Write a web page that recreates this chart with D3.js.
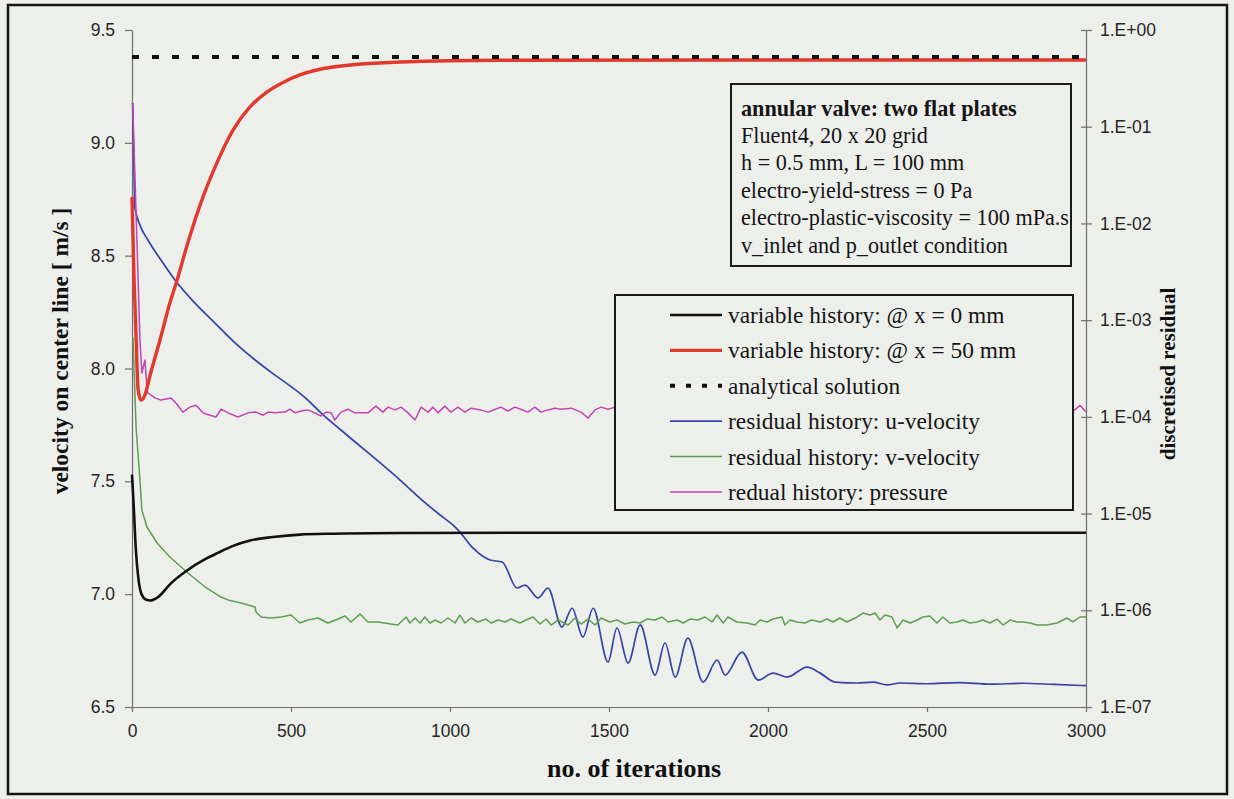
<!DOCTYPE html>
<html><head><meta charset="utf-8">
<script src="https://cdn.jsdelivr.net/npm/d3@7"></script>
<style>
html,body{margin:0;padding:0;background:#edefeb;}
svg{display:block;}
</style>
</head><body>
<svg id="chart" width="1234" height="799"></svg>
<script>
// ---- data -------------------------------------------------------------
const iterTicks = [0, 500, 1000, 1500, 2000, 2500, 3000];
const velocityTicks = [6.5, 7.0, 7.5, 8.0, 8.5, 9.0, 9.5];
const residualTicks = [1e0, 1e-1, 1e-2, 1e-3, 1e-4, 1e-5, 1e-6, 1e-7];

const legendLabels = [
  "variable history: @ x = 0 mm",
  "variable history: @ x = 50 mm",
  "analytical solution",
  "residual history: u-velocity",
  "residual history: v-velocity",
  "redual history: pressure"
];

const infoLines = [
  "annular valve: two flat plates",
  "Fluent4, 20 x 20 grid",
  "h = 0.5 mm, L = 100 mm",
  "electro-yield-stress = 0 Pa",
  "electro-plastic-viscosity = 100 mPa.s",
  "v_inlet and p_outlet condition"
];

// velocity [m/s] vs iteration, centre line at x = 0 mm
const velocityX0 = [[0,7.53],[5,7.40],[12,7.20],[20,7.07],[30,7.00],[45,6.975],[57,6.972],[82,6.987],
  [123,7.049],[173,7.105],[230,7.155],[270,7.183],[320,7.215],[371,7.238],[443,7.253],[528,7.264],
  [632,7.268],[843,7.271],[1200,7.272],[2000,7.272],[3000,7.272]];

// velocity [m/s] vs iteration, centre line at x = 50 mm
const velocityX50 = [[0,8.76],[6,8.42],[13,8.13],[19,7.91],[28,7.86],[40,7.88],[57,7.971],[88,8.126],
  [119,8.290],[142,8.392],[167,8.516],[214,8.724],[267,8.911],[318,9.057],[371,9.159],[424,9.225],
  [478,9.270],[528,9.301],[632,9.336],[843,9.358],[1157,9.366],[2000,9.367],[3000,9.367]];

// analytical solution [m/s]
const velocityAnalytical = [[0,9.38],[3000,9.38]];

// residual history, u-velocity
const residualU = [[2,0.176],[5,0.06],[9,0.0148],[25,9.6e-3],[50,6.74e-3],[91,4.19e-3],[135,2.60e-3],
  [198,1.50e-3],[261,9.33e-4],[324,5.81e-4],[387,3.87e-4],[437,2.9e-4],[553,1.49e-4],[594,1.10e-4],
  [657,7.31e-5],[843,2.22e-5],[912,1.38e-5],[969,9.66e-6],[1009,7.62e-6],[1031,6.44e-6],[1072,4.41e-6],
  [1126,3.31e-6],[1164,3.16e-6],[1211,1.70e-6],[1236,1.82e-6],[1277,1.34e-6],[1308,1.70e-6],
  [1352,6.71e-7],[1384,1.05e-6],[1418,5.28e-7],[1450,1.05e-6],[1497,2.92e-7],[1525,6.56e-7],
  [1560,2.85e-7],[1598,7.05e-7],[1645,2.14e-7],[1676,4.59e-7],[1708,2.04e-7],[1748,5.16e-7],
  [1796,1.81e-7],[1840,3.06e-7],[1865,2.14e-7],[1918,3.70e-7],[1969,1.90e-7],[2016,2.24e-7],
  [2060,2.04e-7],[2123,2.59e-7],[2164,2.24e-7],[2211,1.81e-7],[2280,1.77e-7],[2330,1.81e-7],
  [2374,1.69e-7],[2415,1.77e-7],[2500,1.74e-7],[2600,1.79e-7],[2700,1.72e-7],[2800,1.76e-7],
  [2900,1.71e-7],[3000,1.66e-7]];

// residual history, v-velocity
const residualV = [[3,6.69e-4],[13,7.6e-5],[25,2.22e-5],[31,1.09e-5],[47,7.26e-6],[79,4.96e-6],
  [119,3.56e-6],[176,2.43e-6],[230,1.74e-6],[280,1.37e-6],[302,1.28e-6],[343,1.19e-6],[387,1.08e-6],
  [390,9.60e-7],[406,8.52e-7],[437,8.32e-7],[469,8.52e-7],[500,8.93e-7],[528,7.39e-7],[553,7.93e-7],
  [585,8.32e-7],[616,7.39e-7],[648,8.12e-7],[670,8.73e-7],[689,7.57e-7],[717,9.15e-7],[742,7.57e-7],
  [774,7.57e-7],[814,7.21e-7],[836,7.04e-7],[862,8.52e-7],[874,7.39e-7],[890,8.32e-7],[906,7.39e-7],
  [921,8.52e-7],[937,7.39e-7],[953,7.93e-7],[972,7.39e-7],[994,8.32e-7],[1016,7.39e-7],[1031,8.93e-7],
  [1047,7.39e-7],[1066,8.32e-7],[1088,7.57e-7],[1113,8.12e-7],[1129,7.39e-7],[1151,7.93e-7],
  [1173,7.57e-7],[1192,8.12e-7],[1220,7.39e-7],[1239,7.93e-7],[1261,8.52e-7],[1283,7.21e-7],
  [1302,8.12e-7],[1318,7.04e-7],[1340,7.93e-7],[1371,7.04e-7],[1393,8.32e-7],[1412,7.21e-7],
  [1434,8.12e-7],[1456,7.04e-7],[1475,8.32e-7],[1503,7.57e-7],[1525,7.93e-7],[1550,7.21e-7],
  [1576,7.57e-7],[1598,7.39e-7],[1620,8.12e-7],[1645,7.93e-7],[1667,8.52e-7],[1686,7.57e-7],
  [1714,7.93e-7],[1733,7.39e-7],[1755,8.12e-7],[1780,7.93e-7],[1802,8.52e-7],[1824,7.57e-7],
  [1840,8.93e-7],[1859,7.39e-7],[1874,8.52e-7],[1902,7.57e-7],[1934,7.39e-7],[1959,7.04e-7],
  [1975,7.93e-7],[1997,7.57e-7],[2016,8.12e-7],[2044,8.52e-7],[2053,7.04e-7],[2069,7.93e-7],
  [2091,7.57e-7],[2116,7.39e-7],[2138,7.93e-7],[2164,7.57e-7],[2186,8.12e-7],[2204,7.57e-7],
  [2226,8.32e-7],[2248,7.57e-7],[2274,8.32e-7],[2299,9.37e-7],[2321,8.93e-7],[2337,9.37e-7],
  [2352,7.93e-7],[2368,8.93e-7],[2390,8.52e-7],[2406,6.56e-7],[2425,7.93e-7],[2447,7.39e-7],
  [2469,7.93e-7],[2487,8.52e-7],[2509,8.73e-7],[2531,7.39e-7],[2550,8.52e-7],[2572,7.39e-7],
  [2594,7.57e-7],[2613,7.93e-7],[2635,7.39e-7],[2657,7.57e-7],[2676,7.93e-7],[2698,7.39e-7],
  [2720,8.12e-7],[2739,7.04e-7],[2761,7.93e-7],[2783,7.57e-7],[2802,7.57e-7],[2824,7.39e-7],
  [2846,7.04e-7],[2877,7.04e-7],[2909,7.39e-7],[2940,8.32e-7],[2959,7.57e-7],[2981,8.52e-7],
  [3000,8.52e-7]];

// residual history, pressure
const residualP = [[2,0.176],[9,0.0332],[25,6.23e-4],[31,2.84e-4],[41,3.87e-4],[47,1.90e-4],[50,1.77e-4],
  [72,1.57e-4],[91,1.49e-4],[123,1.57e-4],[138,1.39e-4],[160,1.12e-4],[182,1.26e-4],[201,1.32e-4],
  [223,1.10e-4],[245,1.04e-4],[264,9.96e-5],[280,1.20e-4],[302,1.10e-4],[333,9.96e-5],[365,1.10e-4],
  [390,1.12e-4],[412,1.04e-4],[428,1.12e-4],[450,1.10e-4],[481,1.12e-4],[497,1.20e-4],[513,1.10e-4],
  [531,1.15e-4],[553,1.18e-4],[575,1.10e-4],[594,1.02e-4],[610,1.12e-4],[626,1.10e-4],[638,9.27e-5],
  [657,1.12e-4],[679,1.20e-4],[701,1.10e-4],[720,1.10e-4],[742,1.10e-4],[767,1.29e-4],[789,1.12e-4],
  [805,1.26e-4],[827,1.18e-4],[846,1.26e-4],[868,1.10e-4],[890,9.27e-5],[909,1.26e-4],[931,1.12e-4],
  [947,1.26e-4],[962,1.10e-4],[984,1.29e-4],[1003,1.12e-4],[1025,1.26e-4],[1047,1.12e-4],[1066,1.23e-4],
  [1097,1.18e-4],[1120,1.12e-4],[1142,1.20e-4],[1160,1.26e-4],[1182,1.15e-4],[1204,1.26e-4],
  [1223,1.20e-4],[1245,1.12e-4],[1267,1.26e-4],[1286,1.12e-4],[1308,1.18e-4],[1330,1.23e-4],
  [1349,1.20e-4],[1381,1.23e-4],[1412,1.12e-4],[1434,9.73e-5],[1456,1.18e-4],[1475,1.26e-4],
  [1497,1.20e-4],[1519,1.26e-4],[1700,1.15e-4],[1900,1.18e-4],[2100,1.12e-4],[2300,1.20e-4],
  [2500,1.15e-4],[2700,1.18e-4],[2900,1.15e-4],[2965,1.18e-4],[2981,1.32e-4],[3000,1.12e-4]];

// ---- layout -----------------------------------------------------------
const svg = d3.select("#chart");
const W = 1234, H = 799;
const plot = {left: 132, right: 1086, top: 30, bottom: 707};
const bg = "#edefeb";
const tickFont = "'Liberation Sans', Arial, sans-serif";
const serifFont = "'Liberation Serif', 'Times New Roman', serif";

svg.append("rect").attr("width", W).attr("height", H).attr("fill", bg);
svg.append("rect").attr("x", 8).attr("y", 5).attr("width", 1219).attr("height", 789)
  .attr("fill", "none").attr("stroke", "#151515").attr("stroke-width", 2.5);

const x = d3.scaleLinear().domain([0, 3000]).range([plot.left, plot.right]);
const yV = d3.scaleLinear().domain([6.5, 9.5]).range([plot.bottom, plot.top]);
const yR = d3.scaleLog().domain([1e-7, 1]).range([plot.bottom, plot.top]);

// ---- axes -------------------------------------------------------------
function styleAxis(g) {
  g.select(".domain").attr("stroke", "#6f6f6f").attr("stroke-width", 1.2);
  g.selectAll(".tick line").attr("stroke", "#6f6f6f").attr("stroke-width", 1.2);
  g.selectAll(".tick text").attr("fill", "#262626")
    .style("font-family", tickFont).style("font-size", "17.5px");
}

svg.append("g").attr("transform", `translate(0,${plot.bottom})`)
  .call(d3.axisBottom(x).tickValues(iterTicks).tickSize(5).tickSizeOuter(0).tickPadding(13)
    .tickFormat(d3.format("d")))
  .call(styleAxis);

svg.append("g").attr("transform", `translate(${plot.left},0)`)
  .call(d3.axisLeft(yV).tickValues(velocityTicks).tickSize(7).tickSizeOuter(0).tickPadding(10)
    .tickFormat(d3.format(".1f")))
  .call(styleAxis);

const expFmt = d => {
  const e = Math.round(Math.log10(d));
  return "1.E" + (e >= 0 ? "+" : "-") + String(Math.abs(e)).padStart(2, "0");
};
const rAxis = svg.append("g").attr("transform", `translate(${plot.right},0)`)
  .call(d3.axisRight(yR).tickValues(residualTicks).tickSize(6).tickSizeOuter(0).tickPadding(8)
    .tickFormat(expFmt))
  .call(styleAxis);
rAxis.selectAll(".tick line").attr("x1", -5);

// axis titles
svg.append("text").attr("x", 634).attr("y", 768).attr("text-anchor", "middle")
  .attr("dominant-baseline", "central")
  .style("font-family", serifFont).style("font-weight", "bold").style("font-size", "26px")
  .attr("fill", "#111").text("no. of iterations");

svg.append("text").attr("transform", "translate(60,351) rotate(-90)").attr("text-anchor", "middle")
  .attr("dominant-baseline", "central")
  .style("font-family", serifFont).style("font-weight", "bold").style("font-size", "23.5px")
  .attr("fill", "#111").text("velocity on center line [ m/s ]");

svg.append("text").attr("transform", "translate(1168,374) rotate(-90)").attr("text-anchor", "middle")
  .attr("dominant-baseline", "central")
  .style("font-family", serifFont).style("font-weight", "bold").style("font-size", "21px")
  .attr("fill", "#111").text("discretised residual");

// ---- series -----------------------------------------------------------
const lineV = (curve) => d3.line().x(d => x(d[0])).y(d => yV(d[1])).curve(curve);
const lineR = (curve) => d3.line().x(d => x(d[0])).y(d => yR(d[1])).curve(curve);

const series = [
  {data: residualU, line: lineR(d3.curveMonotoneX), color: "#3444a4", width: 1.7, dash: null},
  {data: residualV, line: lineR(d3.curveLinear), color: "#5d9f4e", width: 1.5, dash: null},
  {data: residualP, line: lineR(d3.curveLinear), color: "#c443b5", width: 1.5, dash: null},
  {data: velocityX0, line: lineV(d3.curveMonotoneX), color: "#111111", width: 2.6, dash: null},
  {data: velocityX50, line: lineV(d3.curveMonotoneX), color: "#e2392d", width: 3.4, dash: null},
  {data: velocityAnalytical, line: lineV(d3.curveLinear), color: "#111111", width: 4, dash: "7,13"}
];

const gLines = svg.append("g");
series.forEach(s => {
  gLines.append("path").datum(s.data).attr("d", s.line)
    .attr("fill", "none").attr("stroke", s.color).attr("stroke-width", s.width)
    .attr("stroke-linejoin", "round")
    .attr("stroke-dasharray", s.dash);
});

// ---- info box ---------------------------------------------------------
const info = svg.append("g");
info.append("rect").attr("x", 731).attr("y", 84).attr("width", 340).attr("height", 182)
  .attr("fill", bg).attr("stroke", "#1a1a1a").attr("stroke-width", 2);
infoLines.forEach((t, i) => {
  info.append("text").attr("x", 741).attr("y", 108 + i * 27.4)
    .attr("dominant-baseline", "central")
    .style("font-family", serifFont).style("font-size", "22.2px")
    .style("font-weight", i === 0 ? "bold" : "normal")
    .attr("fill", "#151515").text(t);
});

// ---- legend -----------------------------------------------------------
const legendOrder = [
  {color: "#111111", width: 2.6, dash: null},
  {color: "#e2392d", width: 3.2, dash: null},
  {color: "#111111", width: 4, dash: "5,11"},
  {color: "#3444a4", width: 1.7, dash: null},
  {color: "#5d9f4e", width: 1.5, dash: null},
  {color: "#c443b5", width: 1.5, dash: null}
];
const legend = svg.append("g");
legend.append("rect").attr("x", 615).attr("y", 295).attr("width", 458).attr("height", 215)
  .attr("fill", bg).attr("stroke", "#1a1a1a").attr("stroke-width", 2);
legendLabels.forEach((t, i) => {
  const cy = 315 + i * 35.4;
  const st = legendOrder[i];
  legend.append("line").attr("x1", 670).attr("x2", 722).attr("y1", cy).attr("y2", cy)
    .attr("stroke", st.color).attr("stroke-width", st.width).attr("stroke-dasharray", st.dash);
  legend.append("text").attr("x", 728).attr("y", cy).attr("dominant-baseline", "central")
    .style("font-family", serifFont).style("font-size", "23.4px")
    .attr("fill", "#151515").text(t);
});
</script>
</body></html>
